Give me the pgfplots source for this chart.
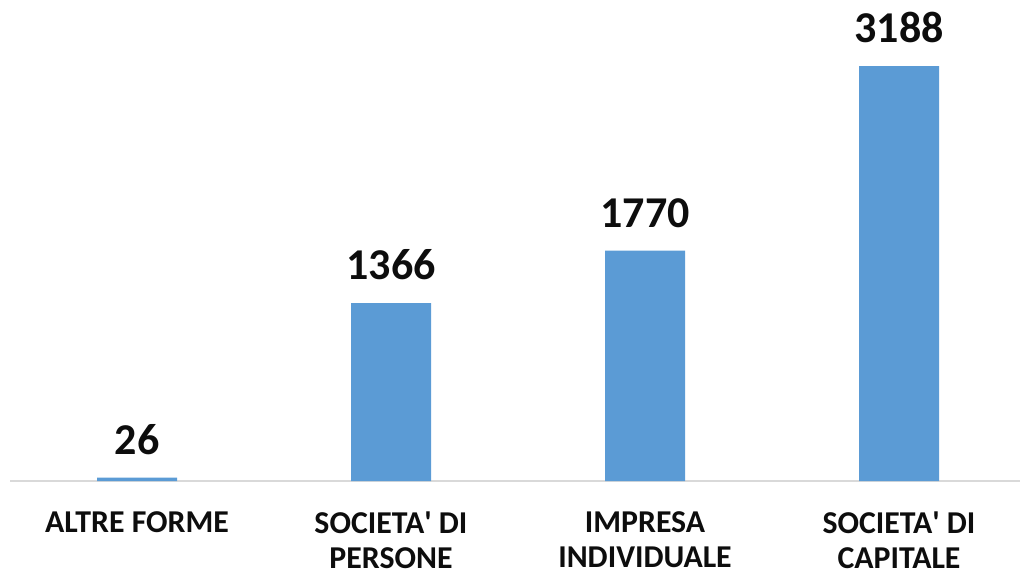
\documentclass[border=0pt]{standalone}
\usepackage{pgfplots}
\pgfplotsset{compat=1.18}
\usepackage{fontspec}
\setmainfont{Carlito}
\definecolor{barblue}{HTML}{5B9BD5}
\definecolor{axgray}{HTML}{D9D9D9}
\definecolor{txt}{HTML}{0D0D0D}
\begin{document}
\begin{tikzpicture}[x=1pt,y=1pt]
\path[use as bounding box] (0,0) rectangle (1020,574);
\begin{axis}[
  at={(137pt,93pt)}, anchor=origin,
  scale only axis, width=1016pt, height=468.6pt,
  xmin=-0.5, xmax=3.5, ymin=0, ymax=3600,
  axis y line=none, axis x line*=bottom,
  x axis line style={draw=axgray, line width=1.5pt},
  xtick={0,1,2,3}, xtick style={draw=none},
  xticklabels={{ALTRE FORME},{SOCIETA\textquotesingle{} DI\\PERSONE},{IMPRESA\\INDIVIDUALE},{SOCIETA\textquotesingle{} DI\\CAPITALE}},
  xticklabel style={align=center, anchor=north, inner sep=0pt, yshift=-26pt, text=txt,
    font=\fontsize{31.8}{35}\selectfont\bfseries},
  ybar, bar width=80pt,
  clip=false,
  nodes near coords={\pgfmathprintnumber[assume math mode=true,1000 sep={}]{\pgfplotspointmeta}},
  every node near coord/.append style={inner sep=0pt, anchor=south, yshift=23pt, text=txt,
    font=\fontsize{44}{53}\selectfont\bfseries},
]
\addplot[fill=barblue, draw=none] coordinates {(0,26) (1,1366) (2,1770) (3,3188)};
\end{axis}
\end{tikzpicture}
\end{document}
